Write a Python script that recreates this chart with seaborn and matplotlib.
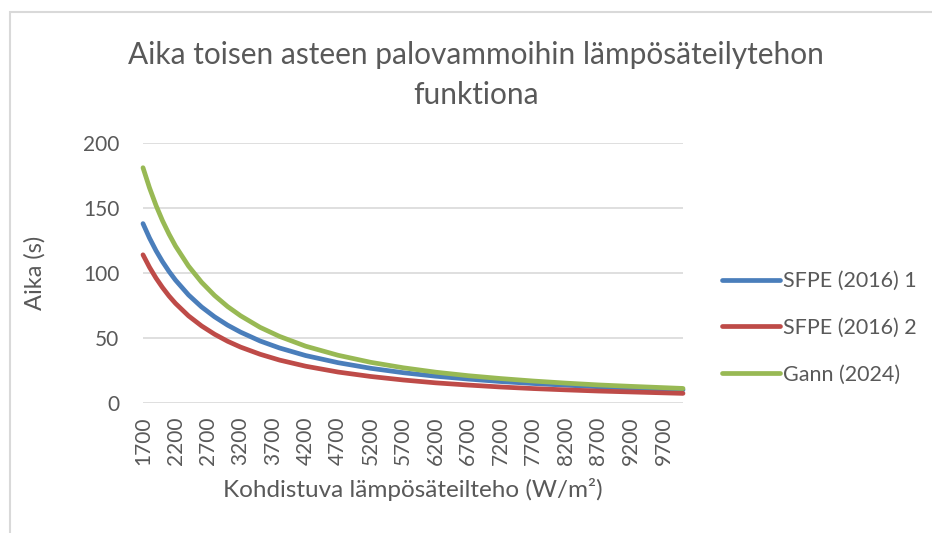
import matplotlib.pyplot as plt
import numpy as np
import pandas as pd
import seaborn as sns
from matplotlib.patches import Rectangle

# --- Data ---
HEAT_FLUX = [1700, 1800, 1900, 2000, 2100, 2200, 2400, 2600, 2800, 3000,
             3200, 3500, 3800, 4200, 4700, 5200, 5700, 6200, 6700, 7200,
             7700, 8200, 8700, 9200, 9700, 10000]
SFPE_1 = [138.0, 126.9, 117.2, 108.7, 101.2, 94.5, 83.1, 73.9, 66.3, 59.9,
          54.5, 47.7, 42.3, 36.5, 31.0, 26.7, 23.3, 20.6, 18.4, 16.5,
          15.0, 13.7, 12.5, 11.5, 10.7, 10.2]
SFPE_2 = [114.0, 104.4, 96.1, 88.8, 82.3, 76.6, 67.0, 59.3, 52.9, 47.5,
          43.0, 37.5, 33.0, 28.3, 23.8, 20.4, 17.7, 15.5, 13.8, 12.3,
          11.1, 10.1, 9.2, 8.5, 7.8, 7.4]
GANN = [181.0, 165.5, 152.0, 140.2, 129.9, 120.7, 105.3, 92.9, 82.7, 74.2,
        67.1, 58.2, 51.2, 43.7, 36.7, 31.3, 27.1, 23.7, 21.0, 18.8,
        16.9, 15.3, 13.9, 12.8, 11.8, 11.2]
SERIES_NAMES = ["SFPE (2016) 1", "SFPE (2016) 2", "Gann (2024)"]
X_TICKS = list(range(1700, 10000, 500))

COLORS = ["#4A7EBB", "#BE4B48", "#98B954"]
TEXT_COLOR = "#595959"
GRID_COLOR = "#D9D9D9"

sns.set_theme(style="white")
plt.rcParams["font.family"] = ["Lato", "DejaVu Sans"]

df = pd.concat(
    [
        pd.DataFrame({"x": HEAT_FLUX, "aika": vals, "sarja": name})
        for name, vals in zip(SERIES_NAMES, [SFPE_1, SFPE_2, GANN])
    ]
)

fig = plt.figure(figsize=(9.32, 5.33), dpi=100)
ax = fig.add_axes([143 / 932, 1 - 403 / 533, 540 / 932, 260 / 533])

sns.lineplot(
    data=df, x="x", y="aika", hue="sarja", hue_order=SERIES_NAMES,
    palette=COLORS, linewidth=3.4, ax=ax, legend=True,
)
for line in ax.get_lines():
    line.set_solid_capstyle("round")
    line.set_clip_on(False)

ax.set_xlim(1700, 10000)
ax.set_ylim(0, 200)
ax.set_yticks(np.arange(0, 201, 50))
ax.set_xticks(X_TICKS)
ax.set_xticklabels([str(t) for t in X_TICKS], rotation=90)
ax.tick_params(axis="both", labelsize=15, colors=TEXT_COLOR, length=0)
ax.tick_params(axis="x", pad=10)
ax.tick_params(axis="y", pad=17)
ax.yaxis.grid(True, color=GRID_COLOR, linewidth=1.2)
ax.set_axisbelow(True)
for s in ax.spines.values():
    s.set_visible(False)

ax.set_xlabel("Kohdistuva lämpösäteilteho (W/m²)", fontsize=17.5,
              color=TEXT_COLOR, labelpad=9)
ax.set_ylabel("Aika (s)", fontsize=17, color=TEXT_COLOR, labelpad=27)

fig.text(476 / 932, 1 - 55 / 533, "Aika toisen asteen palovammoihin lämpösäteilytehon",
         ha="center", va="center", fontsize=21.5, color=TEXT_COLOR)
fig.text(476 / 932, 1 - 95 / 533, "funktiona",
         ha="center", va="center", fontsize=21.5, color=TEXT_COLOR)

leg = ax.legend(
    loc="center left", bbox_to_anchor=(722 / 932, 1 - 328 / 533),
    bbox_transform=fig.transFigure, frameon=False, fontsize=15.5,
    handlelength=2.7, handletextpad=0.15, labelspacing=1.25, borderpad=0,
    borderaxespad=0,
)
for t in leg.get_texts():
    t.set_color(TEXT_COLOR)
for h in leg.get_lines():
    h.set_linewidth(3.4)
    h.set_solid_capstyle("round")

# chart area border
fig.patches.append(Rectangle((9.5 / 932, -0.1), 1.2, 1.1 - 12 / 533,
                             transform=fig.transFigure, fill=False,
                             edgecolor=GRID_COLOR, linewidth=1.5))

fig.savefig("out.png", dpi=100)
